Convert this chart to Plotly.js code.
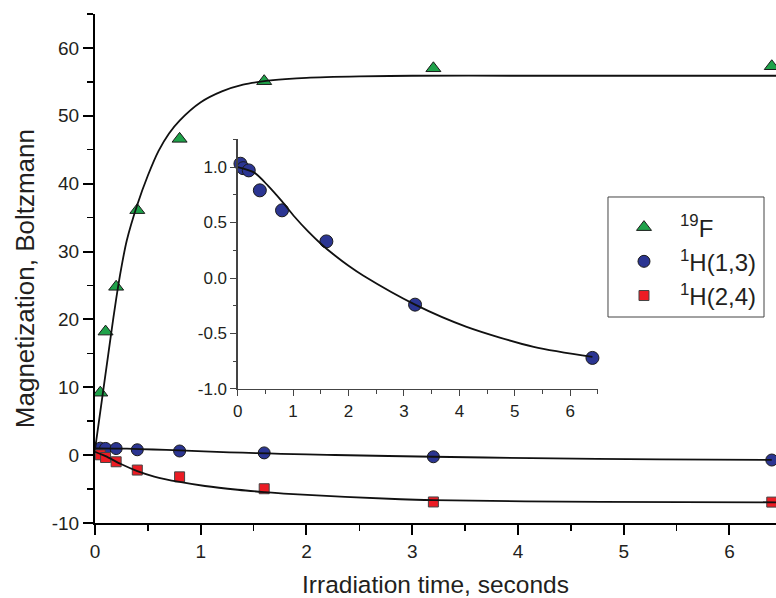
<!DOCTYPE html>
<html>
<head>
<meta charset="utf-8">
<script src="https://cdn.plot.ly/plotly-3.0.1.min.js"></script>
<style>html,body{margin:0;padding:0;background:#fff;}#chart{width:776px;height:598px;}</style>
</head>
<body>
<div id="chart"></div>
<script>
// ---- data ----
const timeF = [0, 0.05, 0.1, 0.2, 0.4, 0.8, 1.6, 3.2, 6.4];
const magF = [1.0, 9.2, 18.2, 24.8, 36.1, 46.6, 55.1, 57.0, 57.3];

const timeH = [0.05, 0.1, 0.2, 0.4, 0.8, 1.6, 3.2, 6.4];
const magH13 = [1.03, 0.99, 0.97, 0.79, 0.61, 0.33, -0.24, -0.72];
const magH24 = [0.05, -0.35, -0.98, -2.2, -3.2, -4.95, -6.9, -6.92];

// fitted curves
const fitFTime = [0, 0.05, 0.1, 0.15, 0.2, 0.25, 0.3, 0.4, 0.5, 0.6, 0.7, 0.8, 1.0, 1.2, 1.4, 1.6, 1.8, 2.0, 2.5, 3.0, 4.0, 5.0, 6.44];
const fitFMag = [0.8, 6.4, 12.0, 17.6, 23.0, 27.7, 31.6, 36.9, 41.2, 44.8, 47.4, 49.3, 52.0, 53.6, 54.6, 55.1, 55.4, 55.6, 55.8, 55.9, 55.9, 55.9, 55.9];

const fitH13Time = [0, 0.3, 0.55, 0.8, 1.03, 1.27, 1.52, 1.76, 2.0, 2.27, 3.2, 4.13, 5.34, 6.4];
const fitH13Mag = [1.0, 0.95, 0.83, 0.69, 0.55, 0.42, 0.30, 0.20, 0.11, 0.02, -0.24, -0.44, -0.62, -0.71];

const fitH24Time = [0, 0.1, 0.25, 0.4, 0.56, 0.8, 1.04, 1.35, 1.6, 1.83, 2.89, 3.2, 4.78, 6.44];
const fitH24Mag = [0.5, -0.15, -1.35, -2.35, -3.15, -3.95, -4.55, -5.1, -5.45, -5.72, -6.5, -6.63, -6.9, -6.95];

const seriesNames = ['<sup>19</sup>F', '<sup>1</sup>H(1,3)', '<sup>1</sup>H(2,4)'];
const xTitle = 'Irradiation time, seconds';
const yTitle = 'Magnetization, Boltzmann';

// tick labels
const mainXTicks = [0, 1, 2, 3, 4, 5, 6];
const mainXLabels = ['0', '1', '2', '3', '4', '5', '6'];
const mainYTicks = [-10, 0, 10, 20, 30, 40, 50, 60];
const mainYLabels = ['-10', '0', '10', '20', '30', '40', '50', '60'];
const insetXTicks = [0, 1, 2, 3, 4, 5, 6];
const insetXLabels = ['0', '1', '2', '3', '4', '5', '6'];
const insetYTicks = [-1, -0.5, 0, 0.5, 1];
const insetYLabels = ['-1.0', '-0.5', '0.0', '0.5', '1.0'];

// ---- styling ----
const FONT = 'Liberation Sans, Arial, Helvetica, sans-serif';
const TXT = '#231f20';
const GREEN = '#1fa24a';
const BLUE = '#2b3592';
const RED = '#ec1c24';
const FITLINE = {color: '#111', width: 1.8, shape: 'spline', smoothing: 0.8};

const traces = [
  {x: timeF, y: magF, type: 'scatter', mode: 'markers', name: seriesNames[0], legendgroup: 'a',
   marker: {symbol: 'triangle-up', size: 13, color: GREEN, line: {color: '#1a1a1a', width: 1}}},
  {x: timeH, y: magH13, type: 'scatter', mode: 'markers', name: seriesNames[1], legendgroup: 'b',
   marker: {symbol: 'circle', size: 12, color: BLUE, line: {color: '#1a1a1a', width: 1}}},
  {x: timeH, y: magH24, type: 'scatter', mode: 'markers', name: seriesNames[2], legendgroup: 'c',
   marker: {symbol: 'square', size: 10, color: RED, line: {color: '#444', width: 1}}},
  {x: fitFTime, y: fitFMag, type: 'scatter', mode: 'lines', line: FITLINE, showlegend: false, hoverinfo: 'skip'},
  {x: fitH13Time, y: fitH13Mag, type: 'scatter', mode: 'lines', line: FITLINE, showlegend: false, hoverinfo: 'skip'},
  {x: fitH24Time, y: fitH24Mag, type: 'scatter', mode: 'lines', line: FITLINE, showlegend: false, hoverinfo: 'skip'},
  // inset
  {x: timeH, y: magH13, type: 'scatter', mode: 'markers', xaxis: 'x2', yaxis: 'y2', showlegend: false, cliponaxis: false,
   marker: {symbol: 'circle', size: 13, color: BLUE, line: {color: '#1a1a1a', width: 1}}},
  {x: fitH13Time, y: fitH13Mag, type: 'scatter', mode: 'lines', xaxis: 'x2', yaxis: 'y2', showlegend: false,
   line: FITLINE, hoverinfo: 'skip'}
];

const mainAxis = {
  showline: true, linecolor: '#000', linewidth: 2, mirror: false,
  ticks: 'outside', ticklen: 10, tickwidth: 2, tickcolor: '#000',
  tickmode: 'array', showgrid: false, zeroline: false,
  tickfont: {family: FONT, size: 19, color: TXT}
};
const insetAxis = {
  showline: true, linecolor: '#444', linewidth: 1.2, mirror: false,
  ticks: 'outside', ticklen: 6, tickwidth: 1, tickcolor: '#444',
  tickmode: 'array', showgrid: false, zeroline: false,
  tickfont: {family: FONT, size: 17, color: TXT}
};

const layout = {
  width: 776, height: 598,
  margin: {l: 95, r: 0, t: 14, b: 75, pad: 0},
  paper_bgcolor: '#fff', plot_bgcolor: 'rgba(0,0,0,0)',
  font: {family: FONT, color: TXT},
  showlegend: true,
  xaxis: Object.assign({}, mainAxis, {
    range: [0, 6.44], domain: [0, 1], anchor: 'y',
    tickvals: mainXTicks, ticktext: mainXLabels,
    minor: {tickmode: 'linear', tick0: 0, dtick: 0.5, ticks: 'outside', ticklen: 6, tickwidth: 1.5, tickcolor: '#000'},
    title: {text: xTitle, font: {family: FONT, size: 24.5, color: TXT}, standoff: 23}
  }),
  yaxis: Object.assign({}, mainAxis, {
    range: [-10, 65], domain: [0, 1], anchor: 'x',
    tickvals: mainYTicks, ticktext: mainYLabels,
    minor: {tickmode: 'linear', tick0: 0, dtick: 5, ticks: 'outside', ticklen: 6, tickwidth: 1.5, tickcolor: '#000'}
  }),
  xaxis2: Object.assign({}, insetAxis, {
    range: [0, 6.5], domain: [0.2095, 0.7386], anchor: 'y2',
    tickvals: insetXTicks, ticktext: insetXLabels,
    minor: {tickmode: 'linear', tick0: 0, dtick: 0.5, ticks: 'outside', ticklen: 3.5, tickwidth: 1, tickcolor: '#444'}
  }),
  yaxis2: Object.assign({}, insetAxis, {
    range: [-1, 1.25], domain: [0.2633, 0.7538], anchor: 'x2',
    tickvals: insetYTicks, ticktext: insetYLabels,
    minor: {tickmode: 'linear', tick0: 0, dtick: 0.25, ticks: 'outside', ticklen: 3.5, tickwidth: 1, tickcolor: '#444'}
  }),
  legend: {
    x: 0.7533, y: 0.6247, xanchor: 'left', yanchor: 'top',
    bgcolor: 'rgba(0,0,0,0)', borderwidth: 0,
    font: {family: FONT, size: 24, color: TXT},
    traceorder: 'grouped', tracegroupgap: 0, itemwidth: 62
  },
  shapes: [
    {type: 'rect', xref: 'paper', yref: 'paper', x0: 0.7533, x1: 0.9824, y0: 0.4047, y1: 0.6405,
     line: {color: '#444', width: 1}, fillcolor: 'rgba(0,0,0,0)', layer: 'above'}
  ],
  annotations: [
    {text: yTitle, xref: 'paper', yref: 'paper', x: -70 / 681, y: 0.479, xanchor: 'center', yanchor: 'middle',
     textangle: -90, showarrow: false, font: {family: FONT, size: 26, color: TXT}}
  ]
};

Plotly.newPlot('chart', traces, layout, {displayModeBar: false, staticPlot: true});
</script>
</body>
</html>
